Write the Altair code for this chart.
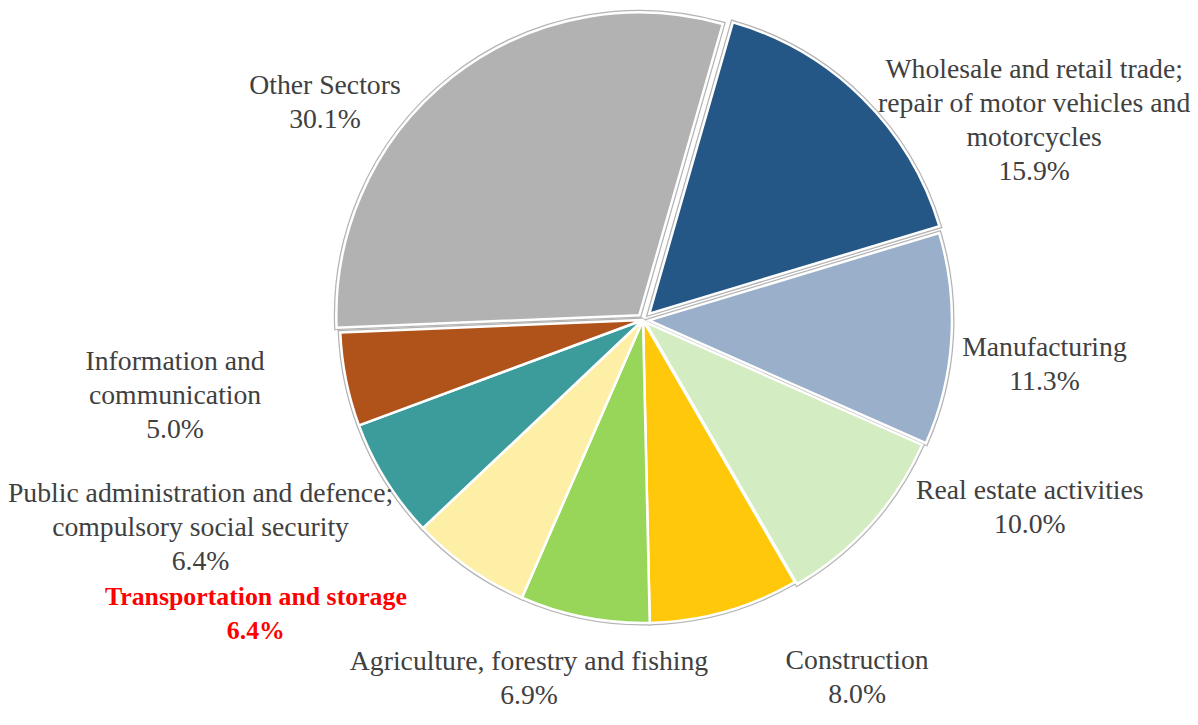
import math
import altair as alt
import pandas as pd

# ---- data ----
sectors = [
    "Wholesale and retail trade; repair of motor vehicles and motorcycles",
    "Manufacturing",
    "Real estate activities",
    "Construction",
    "Agriculture, forestry and fishing",
    "Transportation and storage",
    "Public administration and defence; compulsory social security",
    "Information and communication",
    "Other Sectors",
]
shares = [15.9, 11.3, 10.0, 8.0, 6.9, 6.4, 6.4, 5.0, 30.1]

# ---- presentation (styles / layout) ----
label_lines = [
    ["Wholesale and retail trade;", "repair of motor vehicles and", "motorcycles"],
    ["Manufacturing"],
    ["Real estate activities"],
    ["Construction"],
    ["Agriculture, forestry and fishing"],
    ["Transportation and storage"],
    ["Public administration and defence;", "compulsory social security"],
    ["Information and", "communication"],
    ["Other Sectors"],
]
colors = ["#245786", "#9aafc9", "#d3ecc1", "#ffc80a", "#98d65a",
          "#fdf0a6", "#3c9c9c", "#b0531a", "#b2b2b2"]
explode = [9, 6, 3, 0, 0, 0, 0, 0, 6]
label_angle_deg = [63.0, 96.4, 115.9, 149.1, 197.6, 232.8, 244.8, 260.8, 304.3]
label_radius = [439, 404, 430, 417, 377, 486, 489, 474, 385]
highlight = [False, False, False, False, False, True, False, False, False]

W, H = 1182, 709
CX, CY = 635, 312
R = 303
START = 16 * math.pi / 180
LINE_H = 34

df = pd.DataFrame({
    "idx": list(range(len(sectors))),
    "sector": sectors,
    "share": shares,
    "color": colors,
    "explode": explode,
    "la": label_angle_deg,
    "lr": label_radius,
    "hl": highlight,
    "nlines": [len(l) + 1 for l in label_lines],
    "label": ["\n".join(l + [f"{s:.1f}%"]) for l, s in zip(label_lines, shares)],
})

base = (
    alt.Chart(df)
    .transform_joinaggregate(total="sum(share)")
    .transform_window(cum="sum(share)", sort=[alt.SortField("idx")], frame=[None, 0])
    .transform_calculate(
        a0=f"{START} + 2*PI*(datum.cum - datum.share)/datum.total",
        a1=f"{START} + 2*PI*datum.cum/datum.total",
    )
    .transform_calculate(
        mid="(datum.a0 + datum.a1)/2",
    )
    .transform_calculate(
        cx=f"{CX} + datum.explode*sin(datum.mid)",
        cy=f"{CY} - datum.explode*cos(datum.mid)",
        lx=f"{CX} + datum.lr*sin(datum.la*PI/180)",
        ly=f"{CY} - datum.lr*cos(datum.la*PI/180) - (datum.nlines - 1)*{LINE_H / 2}",
    )
)

arc_enc = dict(
    x=alt.X("cx:Q", scale=None, axis=None),
    y=alt.Y("cy:Q", scale=None, axis=None),
    theta=alt.Theta("a0:Q", scale=None),
    theta2="a1:Q",
    color=alt.Color("color:N", scale=None, legend=None),
)

outline = base.mark_arc(radius=R, stroke="#b4b4b4", strokeWidth=5).encode(**arc_enc)
slices = base.mark_arc(radius=R, stroke="white", strokeWidth=2.5).encode(**arc_enc)

txt_enc = dict(
    x=alt.X("lx:Q", scale=None, axis=None),
    y=alt.Y("ly:Q", scale=None, axis=None),
    text="label:N",
)
labels = base.transform_filter("!datum.hl").mark_text(
    font="Liberation Serif", fontSize=27.7, lineHeight=LINE_H, lineBreak="\n",
    align="center", baseline="middle", color="#404040",
).encode(**txt_enc)
labels_hl = base.transform_filter("datum.hl").mark_text(
    font="Liberation Serif", fontSize=25.8, lineHeight=LINE_H, lineBreak="\n",
    align="center", baseline="middle", color="#ff0000", fontWeight="bold",
).encode(**txt_enc)

chart = alt.layer(outline, slices, labels, labels_hl).properties(
    width=W, height=H,
    autosize=alt.AutoSizeParams(type="none"),
    padding=0,
).configure_view(stroke=None)

chart.save("out.html", embed_options={"renderer": "svg", "actions": False})
